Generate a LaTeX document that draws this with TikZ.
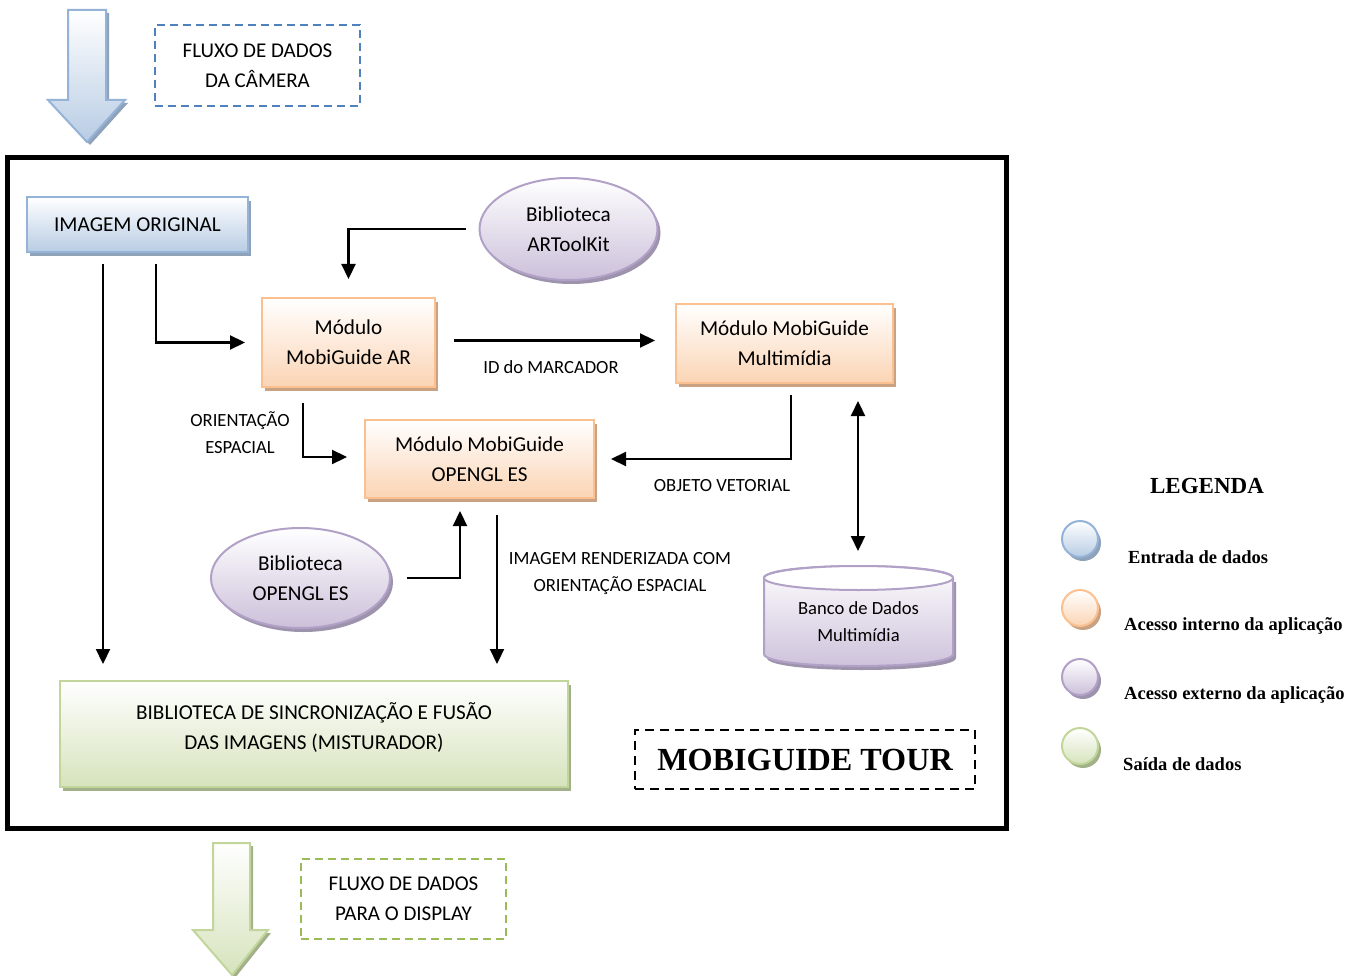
\documentclass[tikz,border=0pt]{standalone}
\usepackage{fontspec}
\setmainfont{Carlito}
\newfontfamily\serifb{Liberation Serif}
\usetikzlibrary{arrows.meta,shapes.geometric,shadows}
\definecolor{blueBot}{HTML}{B8CCE4}
\definecolor{blueBrd}{HTML}{95B3D7}
\definecolor{blueSh}{HTML}{8EA2BA}
\definecolor{orBot}{HTML}{FBD4B4}
\definecolor{orBrd}{HTML}{FAC08F}
\definecolor{orSh}{HTML}{C9A283}
\definecolor{puBot}{HTML}{CCC0DA}
\definecolor{puBrd}{HTML}{B2A1C7}
\definecolor{puSh}{HTML}{9E93AC}
\definecolor{grBot}{HTML}{D6E3BC}
\definecolor{grBrd}{HTML}{C2D69B}
\definecolor{grSh}{HTML}{A3B18A}
\definecolor{dashBlue}{HTML}{4F81BD}
\definecolor{dashGreen}{HTML}{9BBB59}
\tikzset{
  base/.style={inner sep=0pt, align=center, line width=2pt, font=\fontsize{21.2}{30}\selectfont,
    drop shadow={shadow xshift=3pt, shadow yshift=-4pt, opacity=1, fill=#1}},
  bluebox/.style={base=blueSh, draw=blueBrd, top color=white, bottom color=blueBot},
  orbox/.style={base=orSh, draw=orBrd, top color=white, bottom color=orBot},
  pubox/.style={base=puSh, ellipse, draw=puBrd, top color=white, bottom color=puBot},
  grbox/.style={base=grSh, draw=grBrd, top color=white, bottom color=grBot},
  arr/.style={line width=2.2pt, -{Triangle[length=15pt,width=14pt]}},
  darr/.style={line width=2.2pt, {Triangle[length=15pt,width=14pt]}-{Triangle[length=15pt,width=14pt]}},
  lbl/.style={align=center, font=\fontsize{18.6}{27}\selectfont, inner sep=0pt},
  dbox/.style={line width=2pt, dash pattern=on 8pt off 5pt, align=center, inner sep=0pt,
    font=\fontsize{21}{30}\selectfont},
  legc/.style={circle, minimum size=36pt, inner sep=0pt, line width=2pt, top color=white,
    drop shadow={shadow xshift=3pt, shadow yshift=-4pt, opacity=1, fill=#1}},
  legt/.style={anchor=west, inner sep=0pt, font=\serifb\bfseries\fontsize{18.5}{20}\selectfont}
}
\begin{document}
\begin{tikzpicture}[x=1pt,y=-1pt]
\useasboundingbox[fill=white] (0,0) rectangle (1362,976);

% top input arrow
\fill[blueSh] (71,13) -- (109,13) -- (109,103) -- (128,103) -- (90,145) -- (51,103) -- (71,103) -- cycle;
\shade[top color=white, bottom color=blueBot, draw=blueBrd, line width=2pt]
  (68,10) -- (106,10) -- (106,100) -- (125,100) -- (87,142) -- (48,100) -- (68,100) -- cycle;
\node[dbox, draw=dashBlue, minimum width=205pt, minimum height=81pt] (fcam) at (257.5,65.5)
  {FLUXO DE DADOS\\DA CÂMERA};

% main frame
\draw[line width=5pt] (7.5,157.5) rectangle (1006.5,828.5);
\node[draw, dbox, dash pattern=on 9pt off 6pt, minimum width=340pt, minimum height=59pt,
  font=\serifb\bfseries\fontsize{32.2}{36}\selectfont] (tour) at (805,759.5) {MOBIGUIDE TOUR};

% nodes
\node[bluebox, minimum width=221pt, minimum height=55pt] (img) at (137.5,224.5) {IMAGEM ORIGINAL};
\node[orbox, minimum width=173pt, minimum height=89pt] (ar) at (348.5,342.5) {Módulo\\MobiGuide AR};
\node[orbox, minimum width=217pt, minimum height=79pt] (mm) at (784.5,343.5) {Módulo MobiGuide\\Multimídia};
\node[orbox, minimum width=229pt, minimum height=78pt] (gl) at (479.5,459) {Módulo MobiGuide\\OPENGL ES};
\node[pubox, minimum width=178pt, minimum height=102pt] (artk) at (568.5,229) {Biblioteca\\ARToolKit};
\node[pubox, minimum width=179pt, minimum height=100pt] (glib) at (300.5,578) {Biblioteca\\OPENGL ES};
\node[grbox, minimum width=508pt, minimum height=106pt] (mix) at (314,734) {};
\node[align=center, inner sep=0pt, font=\fontsize{21.2}{30}\selectfont] (mixt) at (314,728)
  {BIBLIOTECA DE SINCRONIZAÇÃO E FUSÃO\\DAS IMAGENS (MISTURADOR)};

% database cylinder
\fill[puSh] (767,582) -- (767,658) .. controls (767,674) and (956,674) .. (956,658) -- (956,582) -- cycle;
\shade[top color=white, bottom color=puBot, draw=puBrd, line width=2pt]
  (764,578) -- (764,654) .. controls (764,670) and (953,670) .. (953,654) -- (953,578)
  .. controls (953,562) and (764,562) .. (764,578) -- cycle;
\draw[puBrd, line width=2pt, fill=white] (858.5,578) ellipse (94.5 and 12);
\node[lbl] (db) at (858.5,622) {Banco de Dados\\Multimídia};
\coordinate (dbtop) at (858.5,566);

% connectors
\draw[arr] ([xshift=-13pt]artk.west) -| ([yshift=18pt]ar.north);
\draw[arr] ([xshift=18.5pt,yshift=-11pt]img.south) |- ([xshift=-16pt]ar.west);
\draw[arr] ([xshift=-34.5pt,yshift=-11pt]img.south) coordinate (s3) -- ([yshift=16pt]s3 |- mix.north);
\draw[arr] ([xshift=18pt,yshift=2pt]ar.east) -- ([xshift=-20pt,yshift=3pt]mm.west);
\node[lbl] (lid) at (551,367) {ID do MARCADOR};
\draw[arr] ([xshift=-45.5pt,yshift=-15pt]ar.south) |- ([xshift=-17pt,yshift=2pt]gl.west);
\node[lbl] (lori) at (240,433) {ORIENTAÇÃO\\ESPACIAL};
\draw[arr] ([xshift=6.5pt,yshift=-11pt]mm.south) |- ([xshift=16pt]gl.east);
\node[lbl] (lobj) at (722,486) {OBJETO VETORIAL};
\draw[darr] ([xshift=73.5pt,yshift=-17pt]mm.south) coordinate (s7) -- ([yshift=15pt]s7 |- dbtop);
\draw[arr] ([xshift=15.5pt]glib.east) -| ([xshift=-19.5pt,yshift=-12pt]gl.south);
\draw[arr] ([xshift=17.5pt,yshift=-16pt]gl.south) coordinate (s9) -- ([yshift=16pt]s9 |- mix.north);
\node[lbl] (lren) at (620,573.5) {IMAGEM RENDERIZADA COM\\ORIENTAÇÃO ESPACIAL};

% bottom output arrow
\fill[grSh] (216,846) -- (253,846) -- (253,933) -- (271,933) -- (235,978) -- (196,933) -- (216,933) -- cycle;
\shade[top color=white, bottom color=grBot, draw=grBrd, line width=2pt]
  (213,843) -- (250,843) -- (250,930) -- (268,930) -- (232,975) -- (193,930) -- (213,930) -- cycle;
\node[dbox, draw=dashGreen, minimum width=205pt, minimum height=80pt] (fdisp) at (403.5,899)
  {FLUXO DE DADOS\\PARA O DISPLAY};

% legend
\node[font=\serifb\bfseries\fontsize{23}{26}\selectfont, inner sep=0pt] (leg) at (1207,486) {LEGENDA};
\node[legc=blueSh, draw=blueBrd, bottom color=blueBot] (c1) at (1080,539) {};
\node[legc=orSh, draw=orBrd, bottom color=orBot] (c2) at (1080,608) {};
\node[legc=puSh, draw=puBrd, bottom color=puBot] (c3) at (1080,677) {};
\node[legc=grSh, draw=grBrd, bottom color=grBot] (c4) at (1080,746) {};
\node[legt] (t1) at (1128,557) {Entrada de dados};
\node[legt] (t2) at (1124,626) {Acesso interno da aplicação};
\node[legt] (t3) at (1124,695) {Acesso externo da aplicação};
\node[legt] (t4) at (1123,764) {Saída de dados};
\end{tikzpicture}
\end{document}
